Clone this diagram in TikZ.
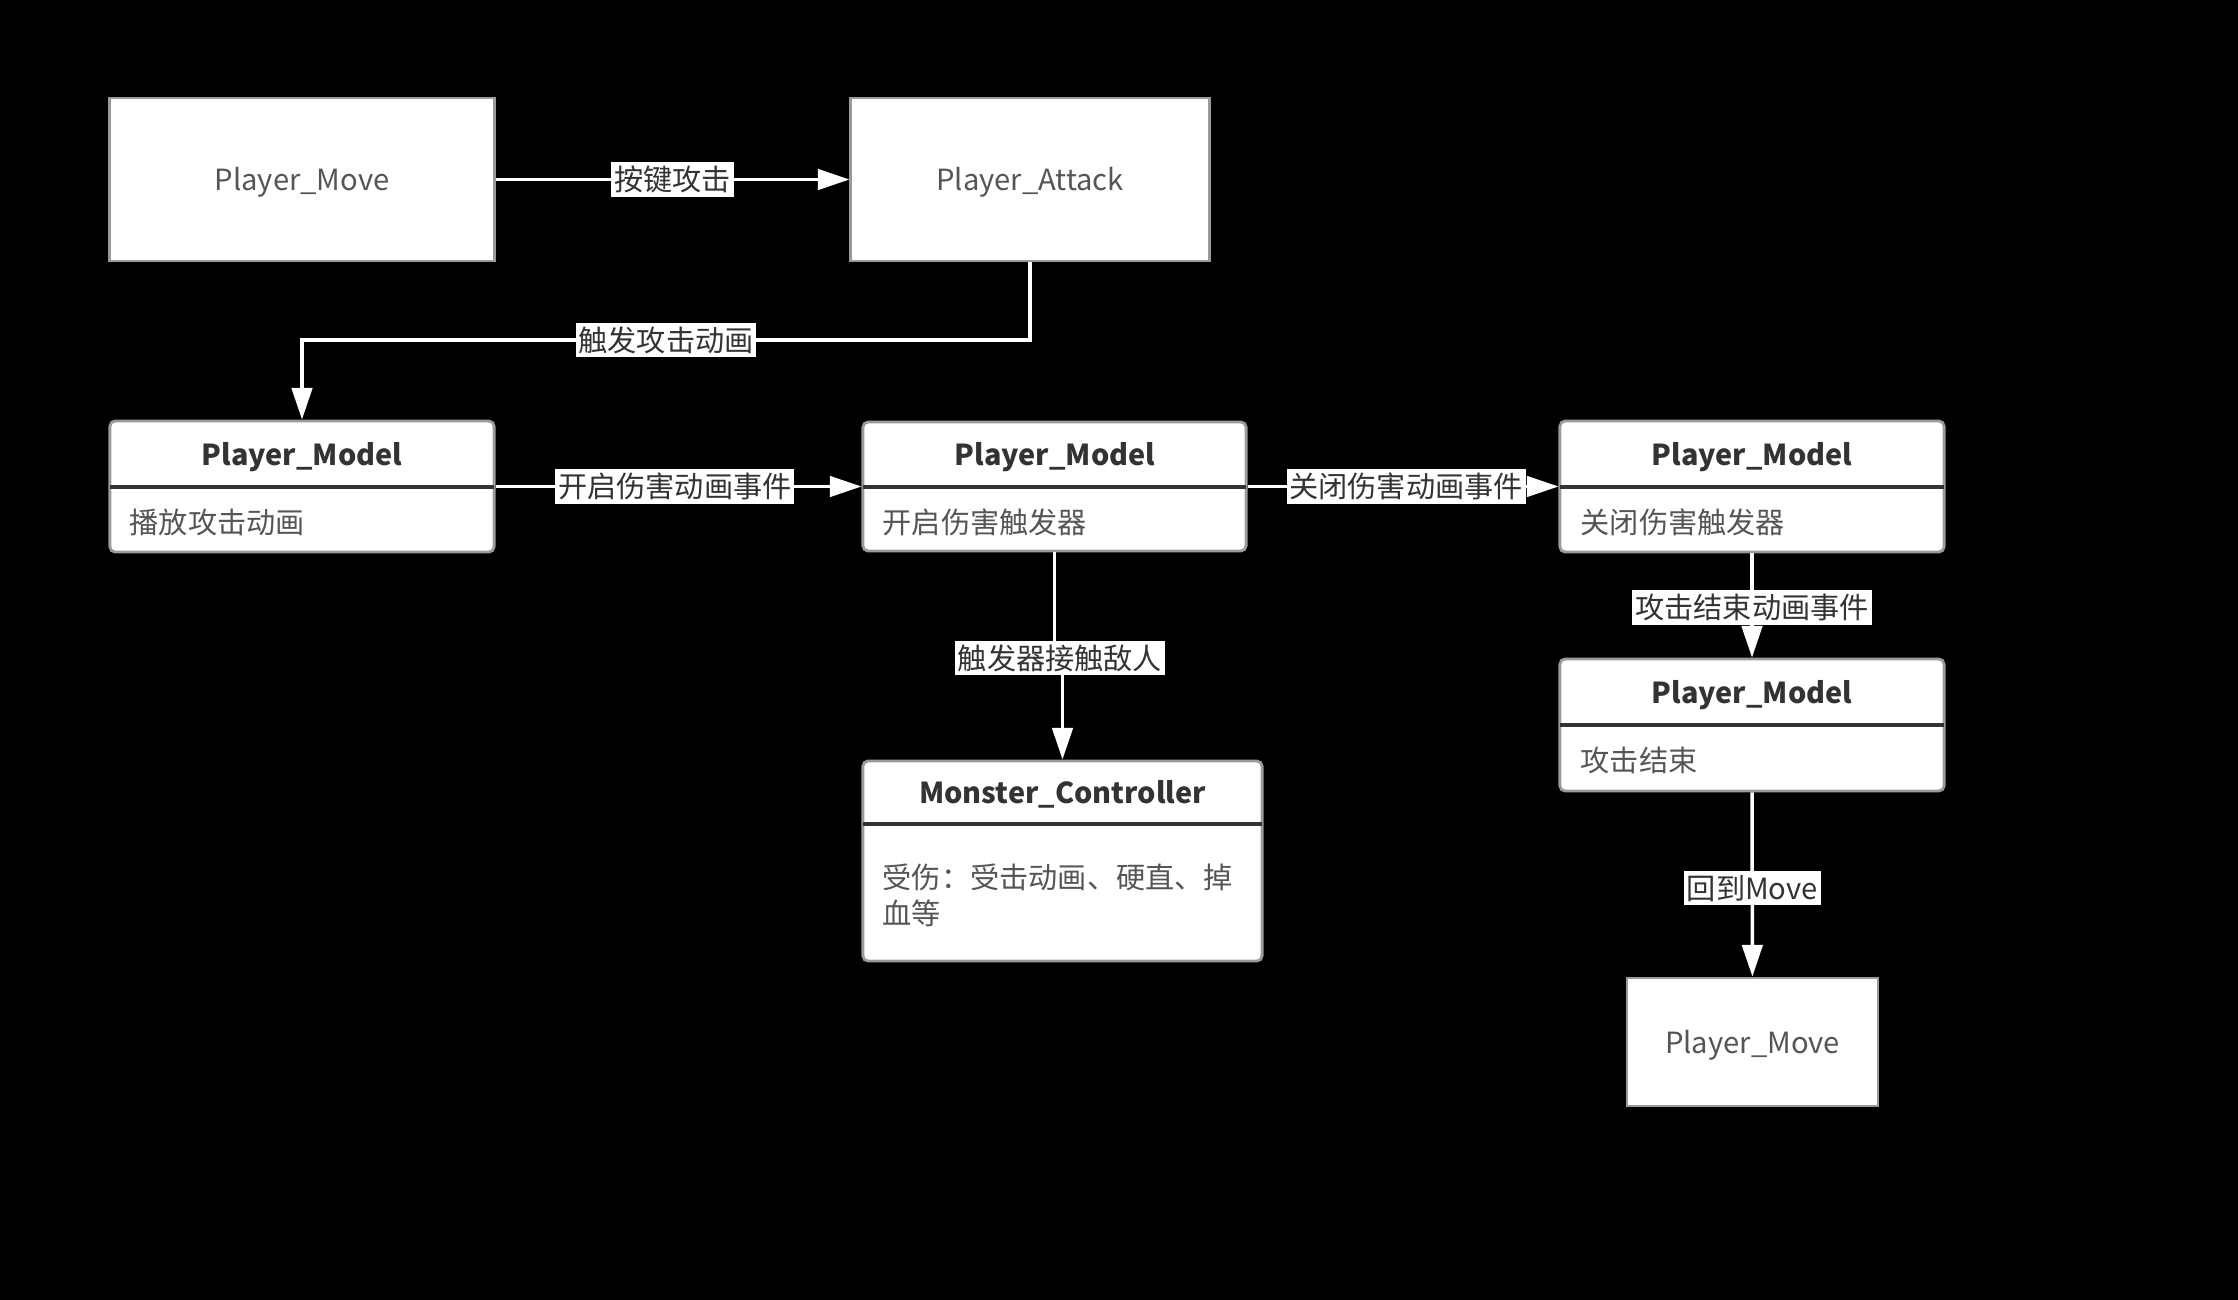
\documentclass[tikz,border=0pt]{standalone}
\usepackage{fontspec}
\setmainfont{Noto Sans CJK SC}
\usetikzlibrary{arrows.meta}
\definecolor{inkgray}{HTML}{333333}
\definecolor{softgray}{HTML}{555555}
\definecolor{rimgray}{HTML}{9A9A9A}
\tikzset{
  statebox/.style={draw=rimgray, line width=0.8pt, fill=white, inner sep=0pt},
  modelbox/.style={statebox, rounded corners=1.5pt},
  titletext/.style={text=inkgray, font=\fontsize{8.2}{10}\selectfont\bfseries, inner sep=0pt},
  bodytext/.style={text=softgray, font=\fontsize{8.3}{10.2}\selectfont, inner sep=0pt, anchor=west, align=left},
  statetext/.style={text=softgray, font=\fontsize{8.3}{10}\selectfont, inner sep=0pt},
  divider/.style={draw=inkgray, line width=1.1pt},
  flow/.style={draw=white, line width=1pt, -{Triangle[width=5.8pt,length=9pt]}},
  lbl/.style={fill=white, text=inkgray, font=\fontsize{8.3}{10}\selectfont, inner xsep=0.8pt, inner ysep=1.1pt}
}
\begin{document}
\begin{tikzpicture}[x=0.01cm, y=-0.01cm]
            \fill[black] (0,0) rectangle (2238,1300);
            \useasboundingbox (0,0) rectangle (2238,1300);

            % Player_Move (start)
            \node[statebox, minimum width=3.84cm, minimum height=1.63cm] (moveA) at (302,179.5) {};
            \node[statetext] at (302,182) {Player\_Move};

            % Player_Attack
            \node[statebox, minimum width=3.58cm, minimum height=1.63cm] (attack) at (1030,179.5) {};
            \node[statetext] at (1030,182) {Player\_Attack};

            % Player_Model: play attack animation
            \node[modelbox, minimum width=3.84cm, minimum height=1.31cm] (modelA) at (302,486.5) {};
            \node[titletext] at (302,457) {Player\_Model};
            \draw[divider] (110,487) -- (494,487);
            \node[bodytext] at (129,522) {播放攻击动画};

            % Player_Model: open damage trigger
            \node[modelbox, minimum width=3.83cm, minimum height=1.29cm] (modelB) at (1054.5,486.5) {};
            \node[titletext] at (1055,457) {Player\_Model};
            \draw[divider] (863,487) -- (1246,487);
            \node[bodytext] at (882,522) {开启伤害触发器};

            % Player_Model: close damage trigger
            \node[modelbox, minimum width=3.84cm, minimum height=1.31cm] (modelC) at (1752,486.5) {};
            \node[titletext] at (1752,457) {Player\_Model};
            \draw[divider] (1560,487) -- (1944,487);
            \node[bodytext] at (1580,522) {关闭伤害触发器};

            % Player_Model: attack finished
            \node[modelbox, minimum width=3.84cm, minimum height=1.32cm] (modelD) at (1752,725) {};
            \node[titletext] at (1752,695) {Player\_Model};
            \draw[divider] (1560,725) -- (1944,725);
            \node[bodytext] at (1580,760) {攻击结束};

            % Monster_Controller
            \node[modelbox, minimum width=3.99cm, minimum height=2.00cm] (monster) at (1062.5,861) {};
            \node[titletext] at (1062.5,794) {Monster\_Controller};
            \draw[divider] (863,824) -- (1262,824);
            \node[bodytext, anchor=north west] at (882,863) {受伤：受击动画、硬直、掉\\血等};

            % Player_Move (back)
            \node[statebox, minimum width=2.51cm, minimum height=1.28cm] (moveB) at (1752.5,1042) {};
            \node[statetext] at (1752.5,1045) {Player\_Move};

            % Connectors
            \draw[flow] (moveA) -- node[lbl] {按键攻击} (attack);

            \coordinate (turn) at (1030,340);
            \draw[flow] (attack.south) -- (turn) -| node[lbl, pos=0.25] {触发攻击动画} (modelA.north);

            \draw[flow] (modelA) -- node[lbl, pos=0.49] {开启伤害动画事件} (modelB);
            \draw[flow] (modelB) -- node[lbl, pos=0.51] {关闭伤害动画事件} (modelC);

            \coordinate (hit) at (1060,658);
            \draw[flow] (modelB.south) |- (hit) -| (monster.north);
            \node[lbl] at (hit) {触发器接触敌人};

            \draw[flow] (modelC) -- node[lbl, pos=0.52] {攻击结束动画事件} (modelD);
            \draw[flow] (modelD) -- node[lbl, pos=0.52] {回到Move} (moveB);
\end{tikzpicture}
\end{document}
